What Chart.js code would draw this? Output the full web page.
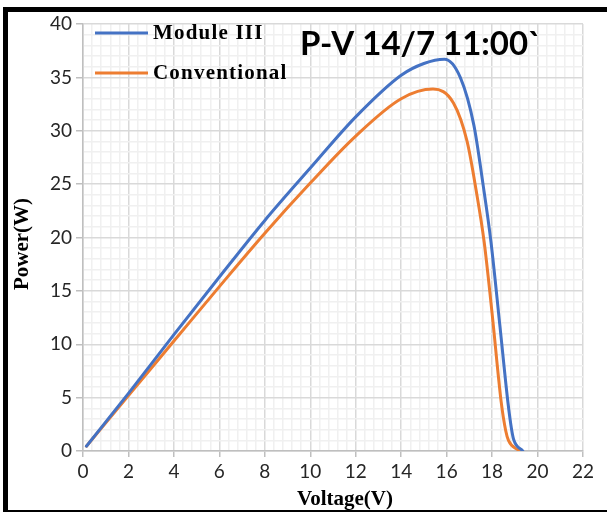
<!DOCTYPE html>
<html>
<head>
<meta charset="utf-8">
<script src="https://cdn.jsdelivr.net/npm/chart.js@4"></script>
<style>
  html, body { margin: 0; padding: 0; background: #fff; }
  #wrap { position: relative; width: 607px; height: 515px; overflow: hidden; }
  #frame {
    position: absolute; left: 3px; top: 7px; width: 620px; height: 498px;
    border-left: 5px solid #000; border-top: 5px solid #000; border-bottom: 2px solid #000;
    pointer-events: none;
  }
  canvas { position: absolute; left: 0; top: 0; }
</style>
</head>
<body>
<div id="wrap">
  <canvas id="PVChart" width="607" height="515"></canvas>
  <div id="frame"></div>
</div>
<script>
// P-V curves, 14/7 at 11:00
const voltageModule = [0.15, 2, 4, 6, 8, 10, 12, 14, 15, 15.9, 16.6, 17.2, 17.6, 17.95, 18.35, 18.7, 18.86, 18.96, 19.35];
const powerModule   = [0.45, 5.4, 10.9, 16.3, 21.6, 26.5, 31.3, 35.2, 36.3, 36.7, 35.0, 30.5, 25.0, 19.6, 11.6, 4.5, 2.0, 1.0, 0];

const voltageConv = [0.15, 2, 4, 6, 8, 10, 12, 14, 15.4, 16.3, 16.9, 17.3, 17.65, 18.0, 18.4, 18.6, 18.72, 19.2];
const powerConv   = [0.45, 5.2, 10.3, 15.4, 20.4, 25.1, 29.5, 33.0, 33.9, 32.6, 29.0, 24.4, 19.6, 12.9, 4.6, 1.9, 1.0, 0];

const seriesNames = ['Module III', 'Conventional'];
const chartTitle = 'P-V 14/7 11:00`';
const xTitle = 'Voltage(V)';
const yTitle = 'Power(W)';

const toPoints = (xs, ys) => xs.map((x, i) => ({ x: x, y: ys[i] }));
const isMultiple = (v, m) => Math.abs(v / m - Math.round(v / m)) < 1e-6;

const serif = '"Liberation Serif", "DejaVu Serif", serif';
const sans = 'Lato, "Open Sans", sans-serif';

// legend, big title and axis titles drawn by hand
const overlay = {
    id: 'overlay',
    afterDraw(chart) {
        const c = chart.ctx;
        const a = chart.chartArea;
        c.save();
        c.textBaseline = 'middle';
        chart.data.datasets.forEach((ds, i) => {
            const y = a.top + 9 + i * 40;
            c.strokeStyle = ds.borderColor;
            c.lineWidth = 3;
            c.beginPath();
            c.moveTo(a.left + 12, y);
            c.lineTo(a.left + 65, y);
            c.stroke();
            c.fillStyle = '#000';
            c.font = 'bold 21px ' + serif;
            c.letterSpacing = '1.2px';
            c.fillText(ds.label, a.left + 70, y + 1);
        });
        c.letterSpacing = '0px';
        c.fillStyle = '#000';
        c.font = 'bold 33px ' + sans;
        c.fillText(chartTitle, a.left + 217, a.top + 20);

        c.font = 'bold 21px ' + serif;
        c.textAlign = 'center';
        c.fillText(xTitle, 345, 500);
        c.translate(23, 244);
        c.rotate(-Math.PI / 2);
        c.fillText(yTitle, 0, 0);
        c.restore();
    }
};

const pv = document.getElementById('PVChart').getContext('2d');
const pvChart = new Chart(pv, {
    type: 'line',
    data: {
        datasets: [{
            label: seriesNames[0],
            data: toPoints(voltageModule, powerModule),
            borderColor: '#4472C4',
            backgroundColor: 'transparent',
            borderWidth: 3
        },
        {
            label: seriesNames[1],
            data: toPoints(voltageConv, powerConv),
            borderColor: '#ED7D31',
            backgroundColor: 'transparent',
            borderWidth: 3
        }]
    },
    options: {
        responsive: false,
        animation: false,
        layout: { padding: { top: 24, right: 24, left: 0, bottom: 0 } },
        elements: {
            point: { radius: 0 },
            line: { cubicInterpolationMode: 'monotone', borderCapStyle: 'round' }
        },
        plugins: { legend: { display: false }, tooltip: { enabled: false } },
        scales: {
            x: {
                type: 'linear',
                min: 0,
                max: 22,
                afterFit(scale) { scale.height = 64; },
                ticks: {
                    stepSize: 0.4,
                    autoSkip: false,
                    maxRotation: 0,
                    padding: 3,
                    color: '#262626',
                    font: { family: sans, size: 19 },
                    callback: v => isMultiple(v, 2) ? Math.round(v) : ''
                },
                grid: {
                    tickLength: 6,
                    color: ctx => isMultiple(ctx.tick.value, 2) ? '#d9d9d9' : '#f0f0f0',
                    tickColor: ctx => isMultiple(ctx.tick.value, 2) ? '#bfbfbf' : 'transparent',
                    lineWidth: 1.5
                },
                border: { color: '#bfbfbf', width: 1.5 }
            },
            y: {
                min: 0,
                max: 40,
                afterFit(scale) { scale.width = 83; },
                ticks: {
                    stepSize: 1,
                    autoSkip: false,
                    padding: 4,
                    color: '#262626',
                    font: { family: sans, size: 19 },
                    callback: v => isMultiple(v, 5) ? Math.round(v) : ''
                },
                grid: {
                    tickLength: 7,
                    color: ctx => isMultiple(ctx.tick.value, 5) ? '#d9d9d9' : '#f0f0f0',
                    tickColor: ctx => isMultiple(ctx.tick.value, 5) ? '#bfbfbf' : 'transparent',
                    lineWidth: 1.5
                },
                border: { color: '#bfbfbf', width: 1.5 }
            }
        }
    },
    plugins: [overlay]
});
</script>
</body>
</html>
